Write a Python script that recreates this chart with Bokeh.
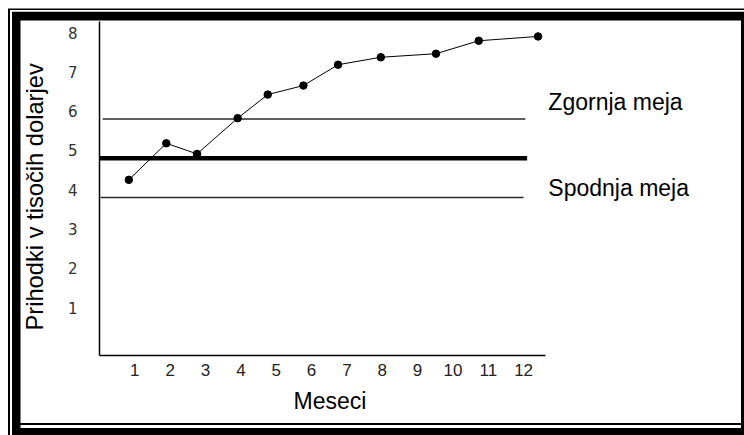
from bokeh.plotting import figure
from bokeh.models import FixedTicker, Label, ColumnDataSource, Title
from bokeh.embed import file_html
from bokeh.resources import INLINE

# ---- data ----
months = list(range(1, 13))
month_labels = [str(m) for m in months]
# positions of the plotted points along the month axis (as drawn)
month_pos = [0.83, 1.89, 2.76, 3.91, 4.76, 5.77, 6.75, 7.96, 9.52, 10.73, 12.41]
revenue = [4.25, 5.18, 4.91, 5.82, 6.42, 6.65, 7.18, 7.37, 7.46, 7.79, 7.90]
y_ticks = [1, 2, 3, 4, 5, 6, 7, 8]
upper_limit = 5.8
center_line = 4.8
lower_limit = 3.8
limit_values = [upper_limit, center_line, lower_limit]
limit_start = [0.09, 0.0, 0.03]
limit_end = [12.05, 12.1, 12.0]
limit_widths = [1.5, 4.5, 1.5]
limit_colors = ["#2a2a2a", "#000000", "#2a2a2a"]
upper_text = "Zgornja  meja"
lower_text = "Spodnja meja"
x_title = "Meseci"
y_title = "Prihodki v tisočih dolarjev"

FONT = "Liberation Sans"
X_AXIS_END = 12.61

p = figure(
    width=744, height=435,
    x_range=(0, 18.25), y_range=(-0.22, 8.28),
    output_backend="svg", toolbar_location=None,
    min_border_left=99, min_border_right=0,
    min_border_top=21, min_border_bottom=80,
)
# double picture frame round the whole chart
p.styles = {
    "box-shadow": ", ".join([
        "inset 8px 0 0 0 #fff", "inset 0 8.5px 0 0 #fff",
        "inset 10px 0 0 0 #000", "inset 0 10px 0 0 #000",
        "inset 12px 0 0 0 #fff", "inset 0 11.7px 0 0 #fff",
        "inset 20.5px 0 0 0 #000", "inset 0 20.5px 0 0 #000",
        "inset -3px 0 0 0 #000",
        "inset 0 -7px 0 0 #000", "inset 0 -10px 0 0 #fff",
        "inset 0 -12px 0 0 #000",
    ]),
}
p.border_fill_color = None
p.background_fill_color = None
p.outline_line_color = None
p.xgrid.visible = False
p.ygrid.visible = False

limits = ColumnDataSource(dict(
    x0=limit_start, x1=limit_end, y=limit_values,
    w=limit_widths, c=limit_colors,
))
p.segment(x0="x0", y0="y", x1="x1", y1="y", line_width="w", line_color="c",
          source=limits)

p.line(month_pos, revenue, line_color="black", line_width=1)
p.scatter(month_pos, revenue, size=7.5, fill_color="black", line_color="black")

p.add_layout(Label(x=12.7, y=upper_limit + 0.11, text=upper_text,
                   text_font=FONT, text_font_size="23px", text_color="black"))
p.add_layout(Label(x=12.7, y=lower_limit - 0.08, text=lower_text,
                   text_font=FONT, text_font_size="23px", text_color="black"))

xa = p.xaxis[0]
xa.ticker = FixedTicker(ticks=months)
xa.bounds = (0, X_AXIS_END)
xa.major_label_overrides = {m: s for m, s in zip(months, month_labels)}
xa.major_label_text_font = FONT
xa.major_label_text_font_size = "17px"
xa.major_label_text_color = "#222222"
xa.major_label_standoff = 2
xa.axis_line_color = "black"
xa.axis_line_width = 1.5
xa.major_tick_line_color = None
xa.minor_tick_line_color = None

ya = p.yaxis[0]
ya.ticker = FixedTicker(ticks=y_ticks)
ya.major_label_text_font = "DejaVu Sans"
ya.major_label_text_font_size = "15px"
ya.major_label_text_color = "#333333"
ya.major_label_standoff = 16
ya.axis_line_color = "black"
ya.axis_line_width = 1.5
ya.major_tick_line_color = None
ya.minor_tick_line_color = None

# axis titles, placed like in the reference (not centred on the frame)
p.add_layout(Title(text=x_title, align="left", offset=194, standoff=15,
                   text_font=FONT, text_font_size="23px",
                   text_font_style="normal", text_color="black"), "below")
p.add_layout(Title(text=y_title, align="left", offset=25, standoff=34,
                   text_font=FONT, text_font_size="23.7px",
                   text_font_style="normal", text_color="black"), "left")

open("out.html", "w").write(file_html(p, INLINE))
